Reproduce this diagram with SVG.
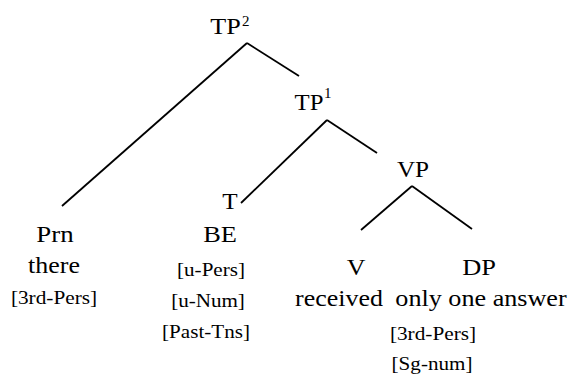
<svg xmlns="http://www.w3.org/2000/svg" width="571" height="376" viewBox="0 0 571 376">
<style>
text{font-family:"Liberation Serif","Times New Roman",serif !important;fill:#000}
.m{font-size:24px;text-anchor:middle}
.f{font-size:19px;text-anchor:middle}
.s{font-size:15px}
.e line{stroke:#000;stroke-width:1.8;stroke-linecap:butt}
</style>
<rect width="571" height="376" fill="#fff"/>
<g id="edges" class="e">
<line x1="247" y1="43" x2="62" y2="206"/>
<line x1="247" y1="43" x2="299" y2="76"/>
<line x1="327" y1="120" x2="241" y2="203"/>
<line x1="327" y1="120" x2="377" y2="153"/>
<line x1="412" y1="186" x2="361" y2="230"/>
<line x1="412" y1="186" x2="472" y2="229"/>
</g>
<g id="tp2"><text class="m" font-family="Liberation Serif" transform="translate(225.5,34) scale(1.09,1)">TP</text><text class="s" font-family="Liberation Serif" x="242" y="26">2</text></g>
<g id="tp1"><text class="m" font-family="Liberation Serif" transform="translate(309,110) scale(1.03,1)">TP</text><text class="s" font-family="Liberation Serif" x="324" y="98">1</text></g>
<g id="vp"><text class="m" font-family="Liberation Serif" transform="translate(413,177) scale(1.05,1)">VP</text></g>
<g id="t"><text class="m" font-family="Liberation Serif" transform="translate(230,209) scale(1.05,1)">T</text></g>
<g id="prn">
<text class="m" font-family="Liberation Serif" transform="translate(55,242) scale(1.12,1)">Prn</text>
<text class="m" font-family="Liberation Serif" transform="translate(54,273) scale(1.08,1)">there</text>
<text class="f" font-family="Liberation Serif" transform="translate(54,304) scale(1.12,1)">[3rd-Pers]</text>
</g>
<g id="be">
<text class="m" font-family="Liberation Serif" transform="translate(220,242) scale(1.1,1)">BE</text>
<text class="f" font-family="Liberation Serif" transform="translate(211,276) scale(1.11,1)">[u-Pers]</text>
<text class="f" font-family="Liberation Serif" transform="translate(208,307) scale(1.11,1)">[u-Num]</text>
<text class="f" font-family="Liberation Serif" transform="translate(206,338) scale(1.11,1)">[Past-Tns]</text>
</g>
<g id="v">
<text class="m" font-family="Liberation Serif" transform="translate(356,275) scale(1.08,1)">V</text>
<text class="m" font-family="Liberation Serif" transform="translate(339,306) scale(1.08,1)">received</text>
</g>
<g id="dp">
<text class="m" font-family="Liberation Serif" transform="translate(479,275) scale(1.1,1)">DP</text>
<text class="m" font-family="Liberation Serif" transform="translate(481,306) scale(1.09,1)">only one answer</text>
<text class="f" font-family="Liberation Serif" transform="translate(433,340) scale(1.12,1)">[3rd-Pers]</text>
<text class="f" font-family="Liberation Serif" transform="translate(432,370) scale(1.11,1)">[Sg-num]</text>
</g>
</svg>
